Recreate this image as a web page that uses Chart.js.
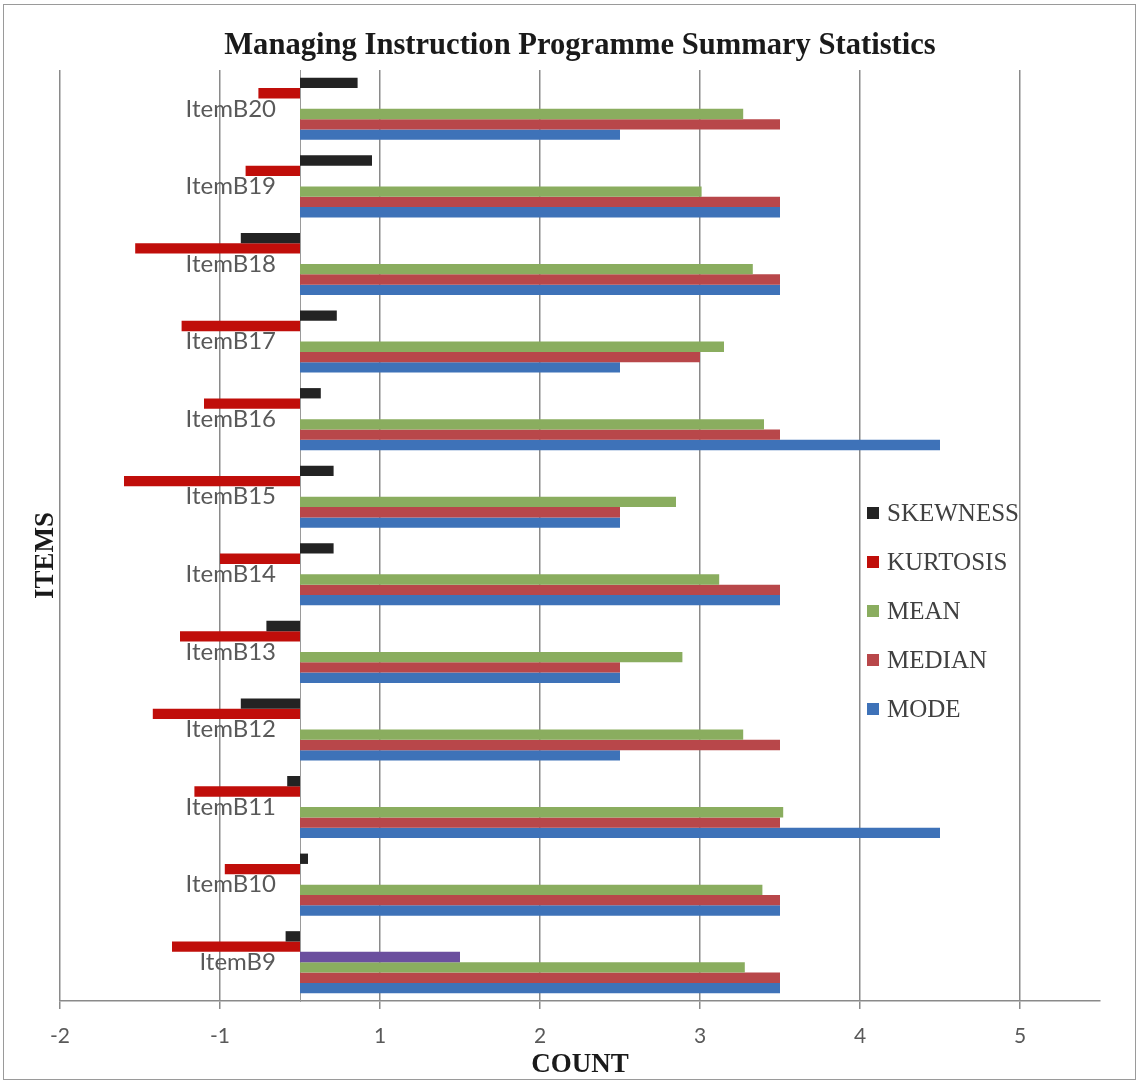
<!DOCTYPE html>
<html>
<head>
<meta charset="utf-8">
<title>Managing Instruction Programme Summary Statistics</title>
<script src="https://cdn.jsdelivr.net/npm/chart.js@4.4.1/dist/chart.umd.min.js"></script>
<style>
  html, body { margin: 0; padding: 0; background: #ffffff; }
  #wrap { position: relative; width: 1138px; height: 1082px; }
  #chart { display: block; }
  #frame { position: absolute; left: 3px; top: 4px; width: 1133px; height: 1076px;
           box-sizing: border-box; border: 1px solid #9a9a9a; pointer-events: none; }
  #legend { position: absolute; left: 867px; top: 498px; margin: 0; padding: 0; list-style: none;
            font-family: "Liberation Serif", "Times New Roman", serif; font-size: 25px; color: #404040; }
  #legend li { display: flex; align-items: center; height: 30px; line-height: 30px;
               margin: 0 0 19px 0; white-space: nowrap; }
  #legend .swatch { width: 12px; height: 12px; margin-right: 8px; flex: none; }
</style>
</head>
<body>
<div id="wrap">
  <canvas id="chart" width="1138" height="1082"></canvas>
  <ul id="legend"></ul>
  <div id="frame"></div>
</div>
<script>
// Items, listed from the top of the chart down
const categories = ['ItemB20', 'ItemB19', 'ItemB18', 'ItemB17', 'ItemB16', 'ItemB15',
                    'ItemB14', 'ItemB13', 'ItemB12', 'ItemB11', 'ItemB10', 'ItemB9'];

// Summary statistics per item
const skewness = [0.36, 0.45, -0.37, 0.23, 0.13, 0.21, 0.21, -0.21, -0.37, -0.08, 0.05, -0.09];
const kurtosis = [-0.26, -0.34, -1.03, -0.74, -0.60, -1.10, -0.50, -0.75, -0.92, -0.66, -0.47, -0.80];
const series4  = [null, null, null, null, null, null, null, null, null, null, null, 1.0];
const mean     = [2.77, 2.51, 2.83, 2.65, 2.90, 2.35, 2.62, 2.39, 2.77, 3.02, 2.89, 2.78];
const median   = [3, 3, 3, 2.5, 3, 2, 3, 2, 3, 3, 3, 3];
const mode     = [2, 3, 3, 2, 4, 2, 3, 2, 2, 4, 3, 3];

// Value axis: tick positions and the (whole-number formatted) labels shown for them
const tickValues = [-1.5, -0.5, 0.5, 1.5, 2.5, 3.5, 4.5];
const tickLabels = ['-2', '-1', '1', '2', '3', '4', '5'];

const serif = '"Liberation Serif", "Times New Roman", serif';
const sans = 'Lato, "Open Sans", sans-serif';
const gridColor = '#8a8a8a';

// Legend built as HTML and laid over the right side of the plot
const htmlLegend = {
  id: 'htmlLegend',
  afterUpdate(chart) {
    const list = document.getElementById('legend');
    list.innerHTML = '';
    chart.data.datasets.forEach((ds) => {
      if (ds.inLegend === false) return;
      const li = document.createElement('li');
      const box = document.createElement('span');
      box.className = 'swatch';
      box.style.background = ds.backgroundColor;
      const txt = document.createElement('span');
      txt.textContent = ds.label;
      li.appendChild(box);
      li.appendChild(txt);
      list.appendChild(li);
    });
  }
};

new Chart(document.getElementById('chart'), {
  type: 'bar',
  data: {
    labels: categories,
    datasets: [
      { label: 'SKEWNESS', data: skewness, backgroundColor: '#232323' },
      { label: 'KURTOSIS', data: kurtosis, backgroundColor: '#c00e0a' },
      { label: 'Series4',  data: series4,  backgroundColor: '#6b4f9e', inLegend: false },
      { label: 'MEAN',     data: mean,     backgroundColor: '#8aad5f' },
      { label: 'MEDIAN',   data: median,   backgroundColor: '#b8474a' },
      { label: 'MODE',     data: mode,     backgroundColor: '#3e72b8' }
    ]
  },
  options: {
    indexAxis: 'y',
    responsive: false,
    animation: false,
    devicePixelRatio: 1,
    datasets: { bar: { barPercentage: 1.0, categoryPercentage: 0.8, borderWidth: 0 } },
    layout: { padding: { left: 33, right: 38, top: 31, bottom: 2 } },
    plugins: {
      legend: { display: false },
      tooltip: { enabled: false },
      title: {
        display: true,
        text: 'Managing Instruction Programme Summary Statistics',
        fullSize: false,
        color: '#1a1a1a',
        font: { family: serif, size: 30.6, weight: 'bold', lineHeight: 1 },
        padding: { top: 0, bottom: 8.4 }
      },
      subtitle: {
        display: true,
        position: 'left',
        text: 'ITEMS',
        color: '#1a1a1a',
        font: { family: serif, size: 27, weight: 'bold', lineHeight: 1 },
        padding: { top: 0, bottom: 0 }
      }
    },
    scales: {
      x: {
        type: 'linear',
        position: 'bottom',
        min: -1.5,
        max: 5,
        afterBuildTicks(scale) {
          scale.ticks = tickValues.map((v) => ({ value: v }));
        },
        ticks: {
          color: '#595959',
          font: { family: sans, size: 21 },
          padding: 15,
          autoSkip: false,
          maxRotation: 0,
          callback: (value, index) => tickLabels[index]
        },
        grid: { color: gridColor, lineWidth: 1.5, tickLength: 8, drawTicks: true },
        border: { display: true, color: gridColor, width: 1.5 },
        title: {
          display: true,
          text: 'COUNT',
          color: '#1a1a1a',
          font: { family: serif, size: 27, weight: 'bold', lineHeight: 1 },
          padding: { top: -12.7, bottom: 1.5 }
        }
      },
      // category axis crossing the value axis at zero (draws the vertical axis line)
      y: {
        type: 'category',
        position: { x: 0 },
        grid: { display: false },
        border: { display: true, color: '#9a9a9a', width: 1 },
        ticks: { display: false }
      },
      // item names, right-aligned a little to the left of the zero line
      yLabels: {
        type: 'category',
        axis: 'y',
        offset: true,
        position: { x: -0.15 },
        grid: { display: false },
        border: { display: false },
        ticks: {
          color: '#595959',
          font: { family: sans, size: 24 },
          autoSkip: false
        }
      }
    }
  },
  plugins: [htmlLegend]
});
</script>
</body>
</html>
